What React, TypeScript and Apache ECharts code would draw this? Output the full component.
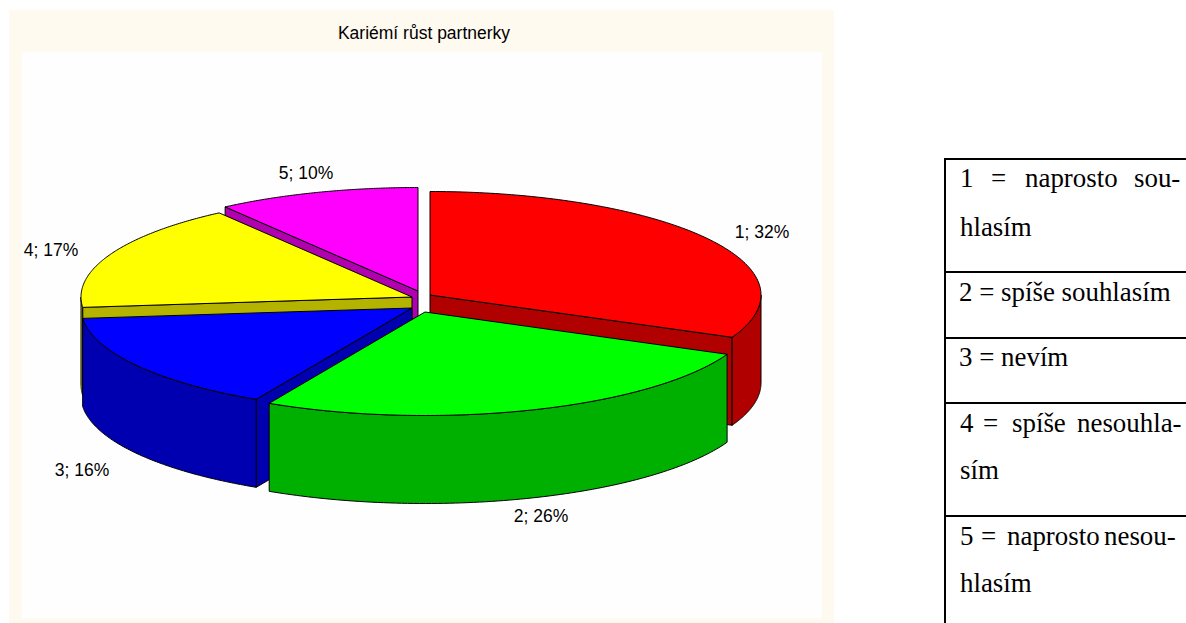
import React, { useEffect, useRef } from "react";
import * as echarts from "echarts";

// ---- data ----
const categories = ["1", "2", "3", "4", "5"];
const sliceValues = [31.7, 26.1, 15.6, 16.7, 9.9];
const topColors = ["#ff0000", "#00ff00", "#0000ff", "#ffff00", "#ff00ff"];
const wallColors = ["#b00000", "#00b000", "#0000b0", "#b4b400", "#b000b0"];
const titleText = "Kariémí růst partnerky";

// justified table lines are laid out word by word, as in the document
const tableWords: [string, number, number][] = [
  ["1", 960, 178], ["=", 991, 178], ["naprosto", 1025, 178], ["sou-", 1134, 178],
  ["hlasím", 960, 227],
  ["2 = spíše souhlasím", 959, 292],
  ["3 = nevím", 959, 357],
  ["4", 960, 423], ["=", 983, 423], ["spíše", 1012, 423], ["nesouhla-", 1077, 423],
  ["sím", 960, 470],
  ["5", 960, 536], ["=", 981, 536], ["naprosto", 1007, 536], ["nesou-", 1104, 536],
  ["hlasím", 960, 583],
];
const tableRowLines = [159, 272, 338, 403, 516];

// ---- layout ----
const CX = 421;
const CY = 301;
const RX = 331;
const RY = 103.5;
const DEPTH = 88;
const sliceShift = [[9, -6], [4, 11], [-9, 7], [-9, -4], [-3, -10]];
const labelCenter = [[762, 232], [541, 516], [82, 470], [51, 250], [306, 173]];
const drawOrder = [4, 3, 2, 0, 1];

const total = sliceValues.reduce((a, b) => a + b, 0);
const startAngles: number[] = [];
sliceValues.reduce((acc, v, i) => {
  startAngles[i] = acc;
  return acc + (v / total) * 2 * Math.PI;
}, 0);

function renderSlice(params: any) {
  const i = drawOrder[params.dataIndex];
  const a0 = startAngles[i];
  const a1 = a0 + (sliceValues[i] / total) * 2 * Math.PI;
  const cx = CX + sliceShift[i][0];
  const cy = CY + sliceShift[i][1];
  const pt = (t: number, dy = 0) => [cx + RX * Math.sin(t), cy - RY * Math.cos(t) + dy];
  const line = { stroke: "#000", lineWidth: 1, lineJoin: "round" };
  const children: any[] = [];
  const wall = (a: number) => ({
    type: "polygon",
    shape: { points: [[cx, cy], pt(a), pt(a, DEPTH), [cx, cy + DEPTH]] },
    style: { fill: wallColors[i], ...line },
  });
  // radial cut faces that look at the viewer
  if (Math.sin(a0) < -1e-3) children.push(wall(a0));
  if (Math.sin(a1) > 1e-3) children.push(wall(a1));
  // outer rim: only the part on the front half
  const f0 = Math.max(a0, Math.PI / 2);
  const f1 = Math.min(a1, (3 * Math.PI) / 2);
  if (f1 > f0) {
    const up: number[][] = [];
    const down: number[][] = [];
    const n = 90;
    for (let k = 0; k <= n; k++) {
      const t = f0 + ((f1 - f0) * k) / n;
      up.push(pt(t));
      down.unshift(pt(t, DEPTH));
    }
    children.push({
      type: "polygon",
      shape: { points: [...up, ...down] },
      style: { fill: wallColors[i], ...line },
    });
  }
  // top face
  const top: number[][] = [[cx, cy]];
  const m = 120;
  for (let k = 0; k <= m; k++) top.push(pt(a0 + ((a1 - a0) * k) / m));
  children.push({
    type: "polygon",
    shape: { points: top },
    style: { fill: topColors[i], ...line },
  });
  children.push({
    type: "text",
    style: {
      text: `${categories[i]}; ${Math.round(sliceValues[i])}%`,
      x: labelCenter[i][0],
      y: labelCenter[i][1],
      align: "center",
      verticalAlign: "middle",
      fill: "#000",
      font: '17.5px "Liberation Sans"',
    },
  });
  return { type: "group", children };
}

export default function App() {
  const ref = useRef<HTMLDivElement>(null);
  useEffect(() => {
    const chart = echarts.init(ref.current!, null, { renderer: "svg" });
    const graphic: any[] = [
      { type: "rect", z: -2, silent: true, shape: { x: 9, y: 10, width: 825, height: 613 }, style: { fill: "#fffaf0" } },
      { type: "rect", z: -1, silent: true, shape: { x: 22, y: 52, width: 800, height: 566 }, style: { fill: "#fefefe" } },
      { type: "line", silent: true, shape: { x1: 945, y1: 158, x2: 945, y2: 623 }, style: { stroke: "#000", lineWidth: 2 } },
      ...tableRowLines.map((y) => ({
        type: "line",
        silent: true,
        shape: { x1: 944, y1: y, x2: 1186, y2: y },
        style: { stroke: "#000", lineWidth: 2 },
      })),
      ...tableWords.map(([text, x, y]) => ({
        type: "text",
        silent: true,
        style: { text, x, y, align: "left", verticalAlign: "middle", fill: "#000", font: '26.9px "Liberation Serif"' },
      })),
    ];
    chart.setOption({
      animation: false,
      backgroundColor: "#fff",
      title: {
        text: titleText,
        left: 419,
        top: 19,
        textAlign: "center",
        textStyle: { fontFamily: "Liberation Sans", fontSize: 17.5, fontWeight: "normal", color: "#000" },
      },
      graphic,
      series: [
        {
          type: "custom",
          coordinateSystem: "none",
          renderItem: renderSlice,
          silent: true,
          data: drawOrder.map((i) => sliceValues[i]),
        },
      ],
    });
    return () => chart.dispose();
  }, []);
  return <div ref={ref} style={{ position: "absolute", left: 0, top: 0, width: 1186, height: 623 }} />;
}
